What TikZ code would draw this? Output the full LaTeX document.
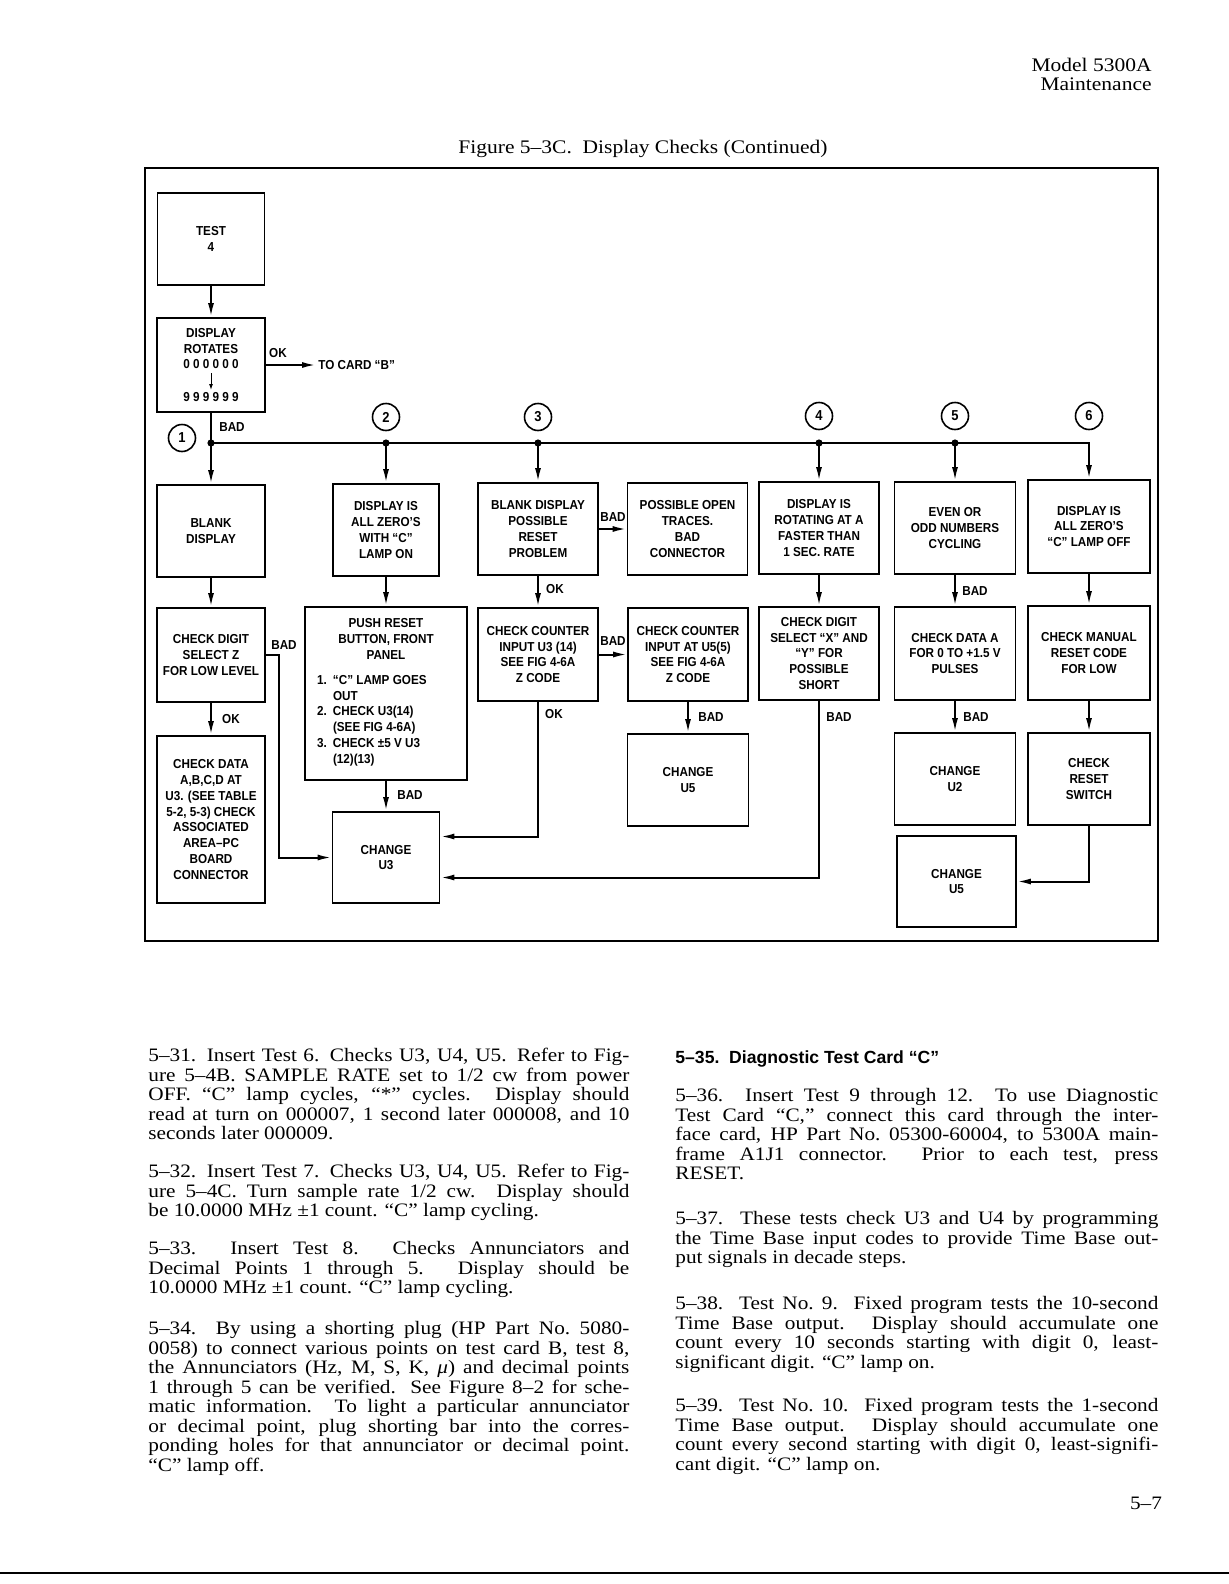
\documentclass[tikz,border=0pt]{standalone}
\usepackage{fontspec}
\setmainfont[FakeStretch=1.12]{Liberation Serif}
\newfontfamily\chartfont[FakeStretch=0.9]{Liberation Sans}
\newfontfamily\headfont{Liberation Sans}
\usetikzlibrary{arrows.meta,calc,positioning}
\newcommand\bodyset{\fontsize{9.5}{9.75}\selectfont\hyphenpenalty=10000 \exhyphenpenalty=10000 \tolerance=9999 }
\newcommand\chartset{\chartfont\bfseries\fontsize{6.5}{7.9}\selectfont}
\tikzset{box/.style={draw,line width=.9pt,align=center,inner sep=1pt,font=\chartset},flow/.style={-{Latex[length=7pt,width=3pt]},line width=1pt},wire/.style={line width=1pt},tag/.style={inner sep=1pt,font=\chartset},num/.style={circle,draw,line width=.8pt,minimum size=13.5pt,inner sep=0pt,font=\chartfont\bfseries\fontsize{7.2}{8}\selectfont},dot/.style={circle,fill,minimum size=3.6pt,inner sep=0pt},para/.style={anchor=north west,inner sep=0pt,text width=240.5pt,align=justify,font=\bodyset}}

\begin{document}
\begin{tikzpicture}[x=0.5pt,y=-0.5pt]
      \useasboundingbox (0,0) rectangle (1229,1584);
      \node[anchor=north east,align=right,inner sep=0pt,font=\fontsize{9.6}{9.6}\selectfont](head) at (1152,58){Model 5300A\\Maintenance};
      \node[font=\fontsize{9.6}{11}\selectfont](title) at (643,149){Figure 5–3C.\ \ Display Checks (Continued)};
      \draw[line width=1pt] (145,168) rectangle (1158,941);
      % column 1
      \node[box,minimum width=53.5pt,minimum height=46pt](test4) at (211,239){TEST\\4};
      \node[box,minimum width=54pt,minimum height=47pt](rotates) at (211,365){DISPLAY\\ROTATES\\0 0 0 0 0 0\\[8.5pt]9 9 9 9 9 9};
      \draw[-{Latex[length=3pt,width=2pt]},line width=.5pt] ($(rotates.center)+(0,8)$)--($(rotates.center)+(0,25)$);
      \node[tag,anchor=west](tocard) at (316,365){TO CARD “B”};
      \node[box,minimum width=54pt,minimum height=46pt](blank) at (211,531){BLANK\\DISPLAY};
      \node[box,minimum width=54pt,minimum height=47pt](checkz) at (211,655){CHECK DIGIT\\SELECT Z\\FOR LOW LEVEL};
      \node[box,minimum width=54pt,minimum height=83.5pt](datau3) at (211,819.5){CHECK DATA\\A,B,C,D AT\\U3. (SEE TABLE\\5-2, 5-3) CHECK\\ASSOCIATED\\AREA–PC\\BOARD\\CONNECTOR};
      % column 2
      \node[box,minimum width=53pt,minimum height=46pt](zeroc) at (386,530){DISPLAY IS\\ALL ZERO’S\\WITH “C”\\LAMP ON};
      \node[box,minimum width=81pt,minimum height=86.5pt](pushreset) at (386,693.5){PUSH RESET\\BUTTON, FRONT\\PANEL\\[4.5pt]\begin{tabular}[t]{@{}p{8pt}@{}p{61pt}@{}}1.&“C” LAMP GOES\\&OUT\\2.&CHECK U3(14)\\&(SEE FIG 4-6A)\\3.&CHECK ±5 V U3\\&(12)(13)\end{tabular}};
      \node[box,minimum width=53.5pt,minimum height=45.5pt](changeu3) at (386,857.5){CHANGE\\U3};
      % columns 3 and 4
      \node[box,minimum width=60pt,minimum height=46pt](blankreset) at (538,529){BLANK DISPLAY\\POSSIBLE\\RESET\\PROBLEM};
      \node[box,minimum width=60pt,minimum height=46pt](opentraces) at (687.5,529){POSSIBLE OPEN\\TRACES.\\BAD\\CONNECTOR};
      \node[box,minimum width=60pt,minimum height=46.5pt](countu3) at (538,654.5){CHECK COUNTER\\INPUT U3 (14)\\SEE FIG 4-6A\\Z CODE};
      \node[box,minimum width=60pt,minimum height=46.5pt](countu5) at (688,654.5){CHECK COUNTER\\INPUT AT U5(5)\\SEE FIG 4-6A\\Z CODE};
      \node[box,minimum width=60.5pt,minimum height=46pt](changeu5) at (688,780){CHANGE\\U5};
      % columns 5, 6 and 7
      \node[box,minimum width=60pt,minimum height=46pt](rotating) at (819,528){DISPLAY IS\\ROTATING AT A\\FASTER THAN\\1 SEC. RATE};
      \node[box,minimum width=60pt,minimum height=46.5pt](selectxy) at (819,653.5){CHECK DIGIT\\SELECT “X” AND\\“Y” FOR\\POSSIBLE\\SHORT};
      \node[box,minimum width=60.5pt,minimum height=46pt](evenodd) at (955,528){EVEN OR\\ODD NUMBERS\\CYCLING};
      \node[box,minimum width=60.5pt,minimum height=46.5pt](dataa) at (955,653.5){CHECK DATA A\\FOR 0 TO +1.5 V\\PULSES};
      \node[box,minimum width=60.5pt,minimum height=46pt](changeu2) at (955,779){CHANGE\\U2};
      \node[box,minimum width=59.5pt,minimum height=45.5pt](changeu5b) at (956.5,881.5){CHANGE\\U5};
      \node[box,minimum width=61pt,minimum height=46.5pt](zerooff) at (1089,526.5){DISPLAY IS\\ALL ZERO’S\\“C” LAMP OFF};
      \node[box,minimum width=61pt,minimum height=47pt](manual) at (1089,653){CHECK MANUAL\\RESET CODE\\FOR LOW};
      \node[box,minimum width=61pt,minimum height=46pt](resetsw) at (1089,779){CHECK\\RESET\\SWITCH};
      % branch numbers and bus
      \node[num](n1) at (182,438){1};\node[num](n2) at (386,417){2};\node[num](n3) at (538,417){3};
      \node[num](n4) at (819,416){4};\node[num](n5) at (955,416){5};\node[num](n6) at (1089,416){6};
      \coordinate(bus) at (0,443);
      \coordinate(j1) at (rotates.south|-bus);\coordinate(j2) at (zeroc.north|-bus);\coordinate(j3) at (blankreset.north|-bus);
      \coordinate(j4) at (rotating.north|-bus);\coordinate(j5) at (evenodd.north|-bus);
      \draw[flow](j1)-|(zerooff.north);
      \foreach \j/\b in {j2/zeroc,j3/blankreset,j4/rotating,j5/evenodd}\draw[flow](\j)--(\b.north);
      \foreach \j in {j1,j2,j3,j4,j5}\node[dot] at (\j){};
      % connectors
      \draw[flow](test4)--(rotates);\draw[flow](rotates)--(tocard);\node[tag](okrot) at (278,353){OK};
      \draw[flow](rotates)--(blank);\node[tag](badrot) at (232,427){BAD};
      \draw[flow](blank)--(checkz);\draw[flow](checkz)--(datau3);\node[tag](okz) at (231,719){OK};
      \draw[flow](checkz.east)--++(13,0)|-(changeu3.west);\node[tag](badz) at (284,645){BAD};
      \draw[flow](zeroc)--(pushreset);\draw[flow](pushreset)--(changeu3);\node[tag](badpush) at (410,795){BAD};
      \draw[flow](blankreset)--(opentraces);\node[tag](badblank) at (613,517){BAD};
      \draw[flow](blankreset)--(countu3);\node[tag](okblank) at (555,589){OK};
      \draw[flow](countu3)--(countu5);\node[tag](badcount) at (613,641){BAD};
      \draw[flow](countu3.south)|-($(changeu3.east)+(0,-21)$);\node[tag](okcount) at (554,714){OK};
      \draw[flow](countu5)--(changeu5);\node[tag](badu5) at (711,717){BAD};
      \draw[flow](rotating)--(selectxy);
      \draw[flow](selectxy.south)|-($(changeu3.east)+(0,20)$);\node[tag](badxy) at (839,717){BAD};
      \draw[flow](evenodd)--(dataa);\node[tag](badeven) at (975,591){BAD};
      \draw[flow](dataa)--(changeu2);\node[tag](baddata) at (976,717){BAD};
      \draw[flow](zerooff)--(manual);\draw[flow](manual)--(resetsw);
      \draw[flow](resetsw.south)|-(changeu5b.east);
      % text below the figure
      \node[para](p31) at (148,1048){5–31. Insert Test 6. Checks U3, U4, U5. Refer to Fig-\linebreak ure 5–4B. SAMPLE RATE set to 1/2 cw from power\linebreak OFF. “C” lamp cycles, “*” cycles. Display should\linebreak read at turn on 000007, 1 second later 000008, and 10\linebreak seconds later 000009.};
      \node[para](p32) at (148,1164){5–32. Insert Test 7. Checks U3, U4, U5. Refer to Fig-\linebreak ure 5–4C. Turn sample rate 1/2 cw. Display should\linebreak be 10.0000 MHz ±1 count. “C” lamp cycling.};
      \node[para](p33) at (148,1241){5–33. Insert Test 8. Checks Annunciators and\linebreak Decimal Points 1 through 5. Display should be\linebreak 10.0000 MHz ±1 count. “C” lamp cycling.};
      \node[para](p34) at (148,1321){5–34. By using a shorting plug (HP Part No.\ 5080-\linebreak 0058) to connect various points on test card B, test 8,\linebreak the Annunciators (Hz, M, S, K, {\itshape μ}) and decimal points\linebreak 1 through 5 can be verified. See Figure 8–2 for sche-\linebreak matic information. To light a particular annunciator\linebreak or decimal point, plug shorting bar into the corres-\linebreak ponding holes for that annunciator or decimal point.\linebreak “C” lamp off.};
      \node[anchor=north west,inner sep=0pt,font=\headfont\bfseries\fontsize{8.8}{10}\selectfont](h35) at (675,1050){5–35.\ \ Diagnostic Test Card “C”};
      \node[para,text width=241.5pt](p36) at (675,1088){5–36. Insert Test 9 through 12. To use Diagnostic\linebreak Test Card “C,” connect this card through the inter-\linebreak face card, HP Part No.\ 05300-60004, to 5300A main-\linebreak frame A1J1 connector. Prior to each test, press\linebreak RESET.};
      \node[para,text width=241.5pt](p37) at (675,1211){5–37. These tests check U3 and U4 by programming\linebreak the Time Base input codes to provide Time Base out-\linebreak put signals in decade steps.};
      \node[para,text width=241.5pt](p38) at (675,1296){5–38. Test No.\ 9. Fixed program tests the 10-second\linebreak Time Base output. Display should accumulate one\linebreak count every 10 seconds starting with digit 0, least-\linebreak significant digit. “C” lamp on.};
      \node[para,text width=241.5pt](p39) at (675,1398){5–39. Test No.\ 10. Fixed program tests the 1-second\linebreak Time Base output. Display should accumulate one\linebreak count every second starting with digit 0, least-signifi-\linebreak cant digit. “C” lamp on.};
      \node[font=\fontsize{9.5}{11}\selectfont](folio) at (1146,1503){5–7};
      \draw[line width=1pt] (0,1573)--(1229,1573);
    \end{tikzpicture}
\end{document}
